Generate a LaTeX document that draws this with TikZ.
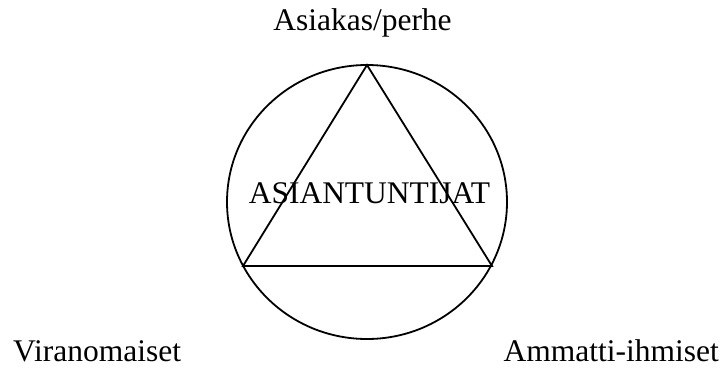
\documentclass[tikz,border=0pt]{standalone}
\usepackage{fontspec}
\setmainfont{Liberation Serif}
\begin{document}
\begin{tikzpicture}[x=1pt,y=-1pt,
  lbl/.style={inner sep=0pt,font=\fontsize{31.5}{36}\selectfont},
  shapeline/.style={draw=black,line width=1.8pt}]
\useasboundingbox (0,0) rectangle (723,367);
\fill[white] (0,0) rectangle (723,367);
\coordinate (c) at (367,202);
\coordinate (t) at (367,65);
\coordinate (bl) at (243,266);
\coordinate (br) at (492,266);
\draw[shapeline] (c) ellipse [x radius=140, y radius=137];
\draw[shapeline,line join=miter] (t) -- (bl) -- (br) -- cycle;
\node[lbl,anchor=base] (top) at (362.5,30) {Asiakas/perhe};
\node[lbl,anchor=base] (mid) at (369.5,203) {ASIANTUNTIJAT};
\node[lbl,text depth=0pt,anchor=base west] (left) at (13,361) {Viranomaiset};
\node[lbl,text depth=0pt,anchor=base east] (right) at (719,361) {Ammatti-ihmiset};
\end{tikzpicture}
\end{document}
